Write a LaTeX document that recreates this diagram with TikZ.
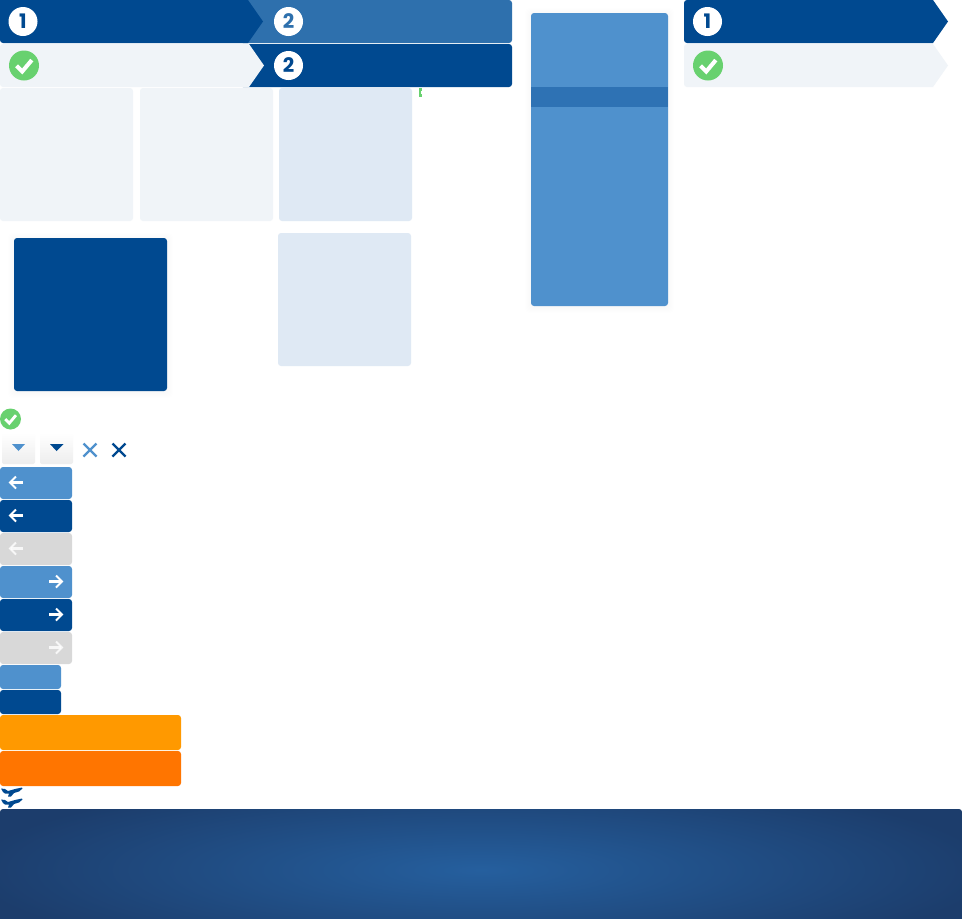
\documentclass[tikz,border=0pt]{standalone}
\usepackage{fontspec}
\setmainfont{Poppins}
\usetikzlibrary{calc}
\definecolor{navy}{HTML}{004990}
\definecolor{midblue}{HTML}{2E70AD}
\definecolor{skyblue}{HTML}{4F91CD}
\definecolor{band}{HTML}{2E72B4}
\definecolor{palegrey}{HTML}{F0F4F8}
\definecolor{paleblue}{HTML}{DFE9F4}
\definecolor{okgreen}{HTML}{68D16F}
\definecolor{offgrey}{HTML}{D8D8D8}
\definecolor{amber}{HTML}{FF9900}
\definecolor{deeporange}{HTML}{FF7500}
\definecolor{bannerin}{HTML}{255F9E}
\definecolor{bannerout}{HTML}{1C3D6C}
\newcommand{\softshadow}[4]{%
  \foreach \s in {1,2,...,6}{
    \fill[black,opacity=0.005,rounded corners=4] (#1-\s,#2-\s+1) rectangle (#3+\s,#4+\s+1);
  }}
\newcommand{\okmark}[3]{% x y r
  \fill[okgreen] (#1,#2) circle (#3);
  \draw[white,line width=0.27*#3,line join=miter] (#1-0.5*#3,#2+0.02*#3) -- (#1-0.12*#3,#2+0.4*#3) -- (#1+0.52*#3,#2-0.36*#3);
}
\tikzset{
  x=1pt,y=-1pt,
  stepnum/.style={circle,fill=white,minimum size=29pt,inner sep=0pt,font=\bfseries\fontsize{20}{20}\selectfont},
  card/.style={rounded corners=3,draw=none},
  btn/.style={rounded corners=3,draw=none},
  crossmark/.style={line width=2.4}
}
\newcommand{\rarrow}[3]{% cx cy opacity
  \draw[white,line width=2.1,opacity=#3] (#1-7,#2) -- (#1+5,#2);
  \draw[white,line width=2.1,opacity=#3] (#1,#2-6) -- (#1+6,#2) -- (#1,#2+6);
}
\newcommand{\larrow}[3]{%
  \draw[white,line width=2.1,opacity=#3] (#1+7,#2) -- (#1-5,#2);
  \draw[white,line width=2.1,opacity=#3] (#1,#2-6) -- (#1-6,#2) -- (#1,#2+6);
}
\newcommand{\plane}[2]{%
  \fill[navy] (#1+1,#2+1.5)
    -- (#1+5,#2+2) -- (#1+8,#2+4) -- (#1+15,#2+2) -- (#1+22,#2+0.5) -- (#1+22.5,#2+1.5)
    -- (#1+19,#2+4.5) -- (#1+14,#2+6) -- (#1+11,#2+9.5) -- (#1+8,#2+9.5) -- (#1+9,#2+6.5)
    -- (#1+5,#2+6.5) -- (#1+3,#2+5) -- cycle;
}
\begin{document}
\begin{tikzpicture}
\useasboundingbox (0,0) rectangle (962,919);
\fill[white] (0,0) rectangle (962,919);
% wizard, left group
\fill[midblue,rounded corners=3] (240,0) -- (512,0) -- (512,43) -- (240,43) -- cycle;
\fill[navy] (0,0) -- (248,0) -- (263,21.5) -- (248,43) -- (3,43) arc[start angle=90,end angle=180,radius=3] -- cycle;
\fill[navy,rounded corners=3] (240,44) -- (512,44) -- (512,87) -- (240,87) -- cycle;
\fill[palegrey] (0,47) arc[start angle=180,end angle=270,radius=3] -- (249,44) -- (264,65.5) -- (249,87) -- (3,87) arc[start angle=90,end angle=180,radius=3] -- cycle;
\node[stepnum,text=navy] (one) at (23,21.5) {1};
\node[stepnum,text=midblue] (twoa) at (288.5,21.5) {2};
\node[stepnum,text=navy] (twob) at (288.5,65.5) {2};
\okmark{24}{65.5}{15}
% cards
\fill[palegrey,card] (0,88) rectangle (133,221);
\fill[palegrey,card] (140,88) rectangle (273,221);
\fill[paleblue,card] (279,88) rectangle (412,221);
\fill[okgreen] (419,88) rectangle (421.5,97);
\fill[white] (420.5,91) rectangle (422,93.5);
\softshadow{14}{238}{167}{391}
\fill[navy,card] (14,238) rectangle (167,391);
\fill[paleblue,card] (278,233) rectangle (411,366);
% sidebar
\softshadow{531}{13}{668}{306}
\fill[skyblue,card] (531,13) rectangle (668,306);
\fill[band] (531,87) rectangle (668,107);
% wizard, right group
\fill[navy] (684,3) arc[start angle=180,end angle=270,radius=3] -- (933,0) -- (948,21.5) -- (933,43) -- (687,43) arc[start angle=90,end angle=180,radius=3] -- cycle;
\fill[palegrey] (684,47) arc[start angle=180,end angle=270,radius=3] -- (933,44) -- (948,65.5) -- (933,87) -- (687,87) arc[start angle=90,end angle=180,radius=3] -- cycle;
\node[stepnum,text=navy] (oner) at (707.5,21.5) {1};
\okmark{708}{65.5}{15}
% small icons
\okmark{10.5}{419}{10.5}
\shade[top color=white,bottom color=black!7,rounded corners=2] (2,433) rectangle (35,464);
\shade[top color=white,bottom color=black!7,rounded corners=2] (40,433) rectangle (73,464);
\fill[skyblue] (12,444) -- (25,444) -- (18.5,451) -- cycle;
\fill[navy] (50,444) -- (63.5,444) -- (56.5,451) -- cycle;
\draw[skyblue,crossmark] (83.5,443.5) -- (96.5,456.5) (83.5,456.5) -- (96.5,443.5);
\draw[navy,crossmark] (112.5,443.5) -- (125.5,456.5) (112.5,456.5) -- (125.5,443.5);
% buttons
\fill[skyblue,btn] (0,467) rectangle (72,499);
\fill[navy,btn] (0,500) rectangle (72,532);
\fill[offgrey,btn] (0,533) rectangle (72,565);
\fill[skyblue,btn] (0,566) rectangle (72,598);
\fill[navy,btn] (0,599) rectangle (72,631);
\fill[offgrey,btn] (0,632) rectangle (72,664);
\fill[skyblue,btn] (0,665) rectangle (61,689);
\fill[navy,btn] (0,690) rectangle (61,714);
\fill[amber,btn] (0,715) rectangle (181,750);
\fill[deeporange,btn] (0,751) rectangle (181,786);
\larrow{16}{482.5}{1}
\larrow{16}{515.5}{1}
\larrow{16}{548.5}{.8}
\rarrow{56}{581.5}{1}
\rarrow{56}{614.5}{1}
\rarrow{56}{647.5}{.8}
% planes
\plane{0}{787}
\plane{0}{798}
% banner
\begin{scope}
\clip[rounded corners=3] (0,809) -- (962,809) -- (962,925) -- (0,925) -- cycle;
\shade[inner color=bannerin,outer color=bannerout] (-30,775) rectangle (992,965);
\end{scope}
\end{tikzpicture}
\end{document}
